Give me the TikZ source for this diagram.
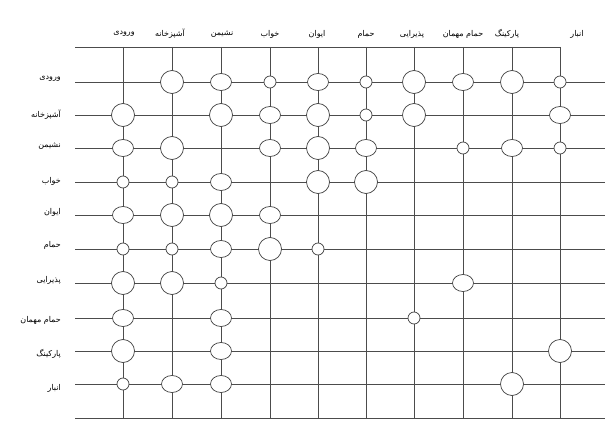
\documentclass[tikz,border=0pt]{standalone}
\usepackage{fontspec}
\newfontfamily\farsi[Script=Arabic]{DejaVu Sans}
\TeXXeTstate=1
\usepackage{xcolor}
\usepackage{tikz}
\usetikzlibrary{shapes.geometric}

\newcommand{\fa}[1]{{\farsi\beginR #1\endR}}

\begin{document}
\begin{tikzpicture}[x=1pt,y=-1pt,
  grid/.style={draw=black!70,line width=0.7pt},
  strong/.style={circle,draw=black!75,fill=white,line width=0.7pt,minimum size=23pt,inner sep=0pt},
  medium/.style={ellipse,draw=black!75,fill=white,line width=0.7pt,minimum width=21pt,minimum height=17pt,inner sep=0pt},
  weak/.style={circle,draw=black!75,fill=white,line width=0.7pt,minimum size=12pt,inner sep=0pt},
  lbl/.style={font=\farsi\fontsize{8}{10}\selectfont,inner sep=1pt}]
  \useasboundingbox (0,0) rectangle (607,422);

  % columns
  \foreach \x [count=\i] in {123,172,221,270,318,366,414,463,512,560} {
    \coordinate (top\i) at (\x,47);
    \coordinate (bot\i) at (\x,418);
    \draw[grid] (top\i) -- (bot\i);
  }
  % rows
  \foreach \y [count=\j] in {82,115,148,182,215,249,283,318,351,384} {
    \coordinate (left\j) at (75,\y);
    \coordinate (right\j) at (605,\y);
    \draw[grid] (left\j) -- (right\j);
  }
  \coordinate (topleft) at (75,47);
  \coordinate (botleft) at (75,418);
  \coordinate (botright) at (605,418);
  \draw[grid] (topleft) -- (top10);
  \draw[grid] (botleft) -- (botright);

  % column titles
  \node[lbl] (h1) at (124,34) {\fa{ورودی}};
  \node[lbl] (h2) at (170,34) {\fa{آشپزخانه}};
  \node[lbl] (h3) at (222,34) {\fa{نشیمن}};
  \node[lbl] (h4) at (270,34) {\fa{خواب}};
  \node[lbl] (h5) at (317,34) {\fa{ایوان}};
  \node[lbl] (h6) at (366,34) {\fa{حمام}};
  \node[lbl] (h7) at (412,34) {\fa{پذیرایی}};
  \node[lbl] (h8) at (463,34) {\fa{حمام مهمان}};
  \node[lbl] (h9) at (507,34) {\fa{پارکینگ}};
  \node[lbl] (h10) at (577,34) {\fa{انبار}};

  % row titles
  \node[lbl,anchor=east] (v1) at (62,79) {\fa{ورودی}};
  \node[lbl,anchor=east] (v2) at (62,115) {\fa{آشپزخانه}};
  \node[lbl,anchor=east] (v3) at (62,146) {\fa{نشیمن}};
  \node[lbl,anchor=east] (v4) at (62,181) {\fa{خواب}};
  \node[lbl,anchor=east] (v5) at (62,212) {\fa{ایوان}};
  \node[lbl,anchor=east] (v6) at (62,245) {\fa{حمام}};
  \node[lbl,anchor=east] (v7) at (62,280) {\fa{پذیرایی}};
  \node[lbl,anchor=east] (v8) at (62,320) {\fa{حمام مهمان}};
  \node[lbl,anchor=east] (v9) at (62,354) {\fa{پارکینگ}};
  \node[lbl,anchor=east] (v10) at (62,388) {\fa{انبار}};

  % relations
  \foreach \r/\c/\s in {1/2/strong,1/3/medium,1/4/weak,1/5/medium,1/6/weak,1/7/strong,1/8/medium,1/9/strong,1/10/weak,
      2/1/strong,2/3/strong,2/4/medium,2/5/strong,2/6/weak,2/7/strong,2/10/medium,
      3/1/medium,3/2/strong,3/4/medium,3/5/strong,3/6/medium,3/8/weak,3/9/medium,3/10/weak,
      4/1/weak,4/2/weak,4/3/medium,4/5/strong,4/6/strong,
      5/1/medium,5/2/strong,5/3/strong,5/4/medium,
      6/1/weak,6/2/weak,6/3/medium,6/4/strong,6/5/weak,
      7/1/strong,7/2/strong,7/3/weak,7/8/medium,
      8/1/medium,8/3/medium,8/7/weak,
      9/1/strong,9/3/medium,9/10/strong,
      10/1/weak,10/2/medium,10/3/medium,10/9/strong}
    \node[\s] (n\r-\c) at (top\c |- left\r) {};
\end{tikzpicture}
\end{document}
